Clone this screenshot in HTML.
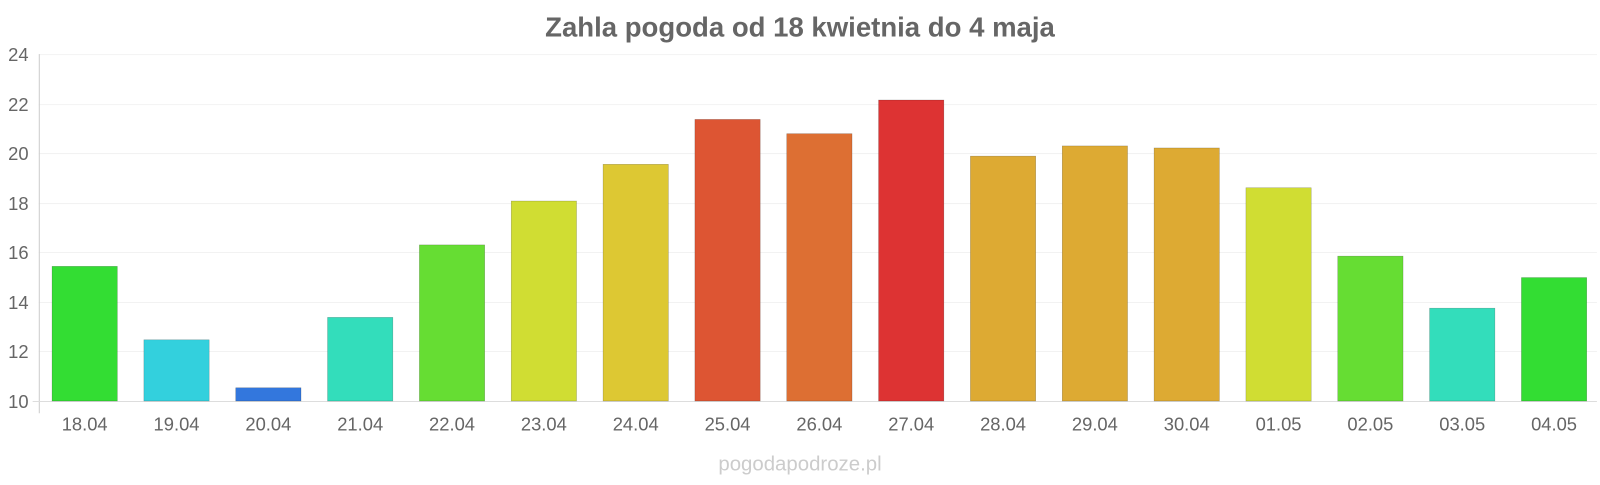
<!DOCTYPE html>
<html><head><meta charset="utf-8"><style>
body{margin:0;background:#fff;}
svg text{font-family:"Liberation Sans",sans-serif;}
</style></head><body>
<svg width="1600" height="480" xmlns="http://www.w3.org/2000/svg">
<g transform="scale(1.0204)">
<text x="784" y="36" text-anchor="middle" font-size="27" font-weight="bold" fill="#666">Zahla pogoda od 18 kwietnia do 4 maja</text>
<g stroke="#f2f2f2" stroke-width="1">
<line x1="38" x2="1565" y1="53.5" y2="53.5"/><line x1="38" x2="1565" y1="102.5" y2="102.5"/>
<line x1="38" x2="1565" y1="150.5" y2="150.5"/><line x1="38" x2="1565" y1="199.5" y2="199.5"/>
<line x1="38" x2="1565" y1="247.5" y2="247.5"/><line x1="38" x2="1565" y1="296.5" y2="296.5"/>
<line x1="38" x2="1565" y1="344.5" y2="344.5"/>
</g>
<line x1="38.5" x2="38.5" y1="53" y2="405" stroke="#ccc"/>
<line x1="32" x2="1565" y1="393.5" y2="393.5" stroke="#ddd"/>
<g font-size="18" fill="#666" text-anchor="end">
<text x="28" y="60">24</text><text x="28" y="109">22</text><text x="28" y="157">20</text>
<text x="28" y="206">18</text><text x="28" y="254">16</text><text x="28" y="303">14</text>
<text x="28" y="351">12</text><text x="28" y="400">10</text>
</g>
<g stroke-opacity="0.3" stroke="#000" stroke-width="0.5">
<rect x="51" y="261" width="64" height="132" fill="#33dd33"/>
<rect x="141" y="333" width="64" height="60" fill="#33d0dd"/>
<rect x="231" y="380" width="64" height="13" fill="#3377dd"/>
<rect x="321" y="311" width="64" height="82" fill="#33ddbb"/>
<rect x="411" y="240" width="64" height="153" fill="#66dd33"/>
<rect x="501" y="197" width="64" height="196" fill="#d0dd33"/>
<rect x="591" y="161" width="64" height="232" fill="#ddc833"/>
<rect x="681" y="117" width="64" height="276" fill="#dd5533"/>
<rect x="771" y="131" width="64" height="262" fill="#dd6f33"/>
<rect x="861" y="98" width="64" height="295" fill="#dd3333"/>
<rect x="951" y="153" width="64" height="240" fill="#ddaa33"/>
<rect x="1041" y="143" width="64" height="250" fill="#ddaa33"/>
<rect x="1131" y="145" width="64" height="248" fill="#ddaa33"/>
<rect x="1221" y="184" width="64" height="209" fill="#d0dd33"/>
<rect x="1311" y="251" width="64" height="142" fill="#66dd33"/>
<rect x="1401" y="302" width="64" height="91" fill="#33ddbb"/>
<rect x="1491" y="272" width="64" height="121" fill="#33dd33"/>
</g>
<g font-size="18" fill="#666" text-anchor="middle">
<text x="83" y="422">18.04</text><text x="173" y="422">19.04</text><text x="263" y="422">20.04</text>
<text x="353" y="422">21.04</text><text x="443" y="422">22.04</text><text x="533" y="422">23.04</text>
<text x="623" y="422">24.04</text><text x="713" y="422">25.04</text><text x="803" y="422">26.04</text>
<text x="893" y="422">27.04</text><text x="983" y="422">28.04</text><text x="1073" y="422">29.04</text>
<text x="1163" y="422">30.04</text><text x="1253" y="422">01.05</text><text x="1343" y="422">02.05</text>
<text x="1433" y="422">03.05</text><text x="1523" y="422">04.05</text>
</g>
<text x="784" y="461" text-anchor="middle" font-size="20" fill="#ccc">pogodapodroze.pl</text>
</g>
</svg>
</body></html>
